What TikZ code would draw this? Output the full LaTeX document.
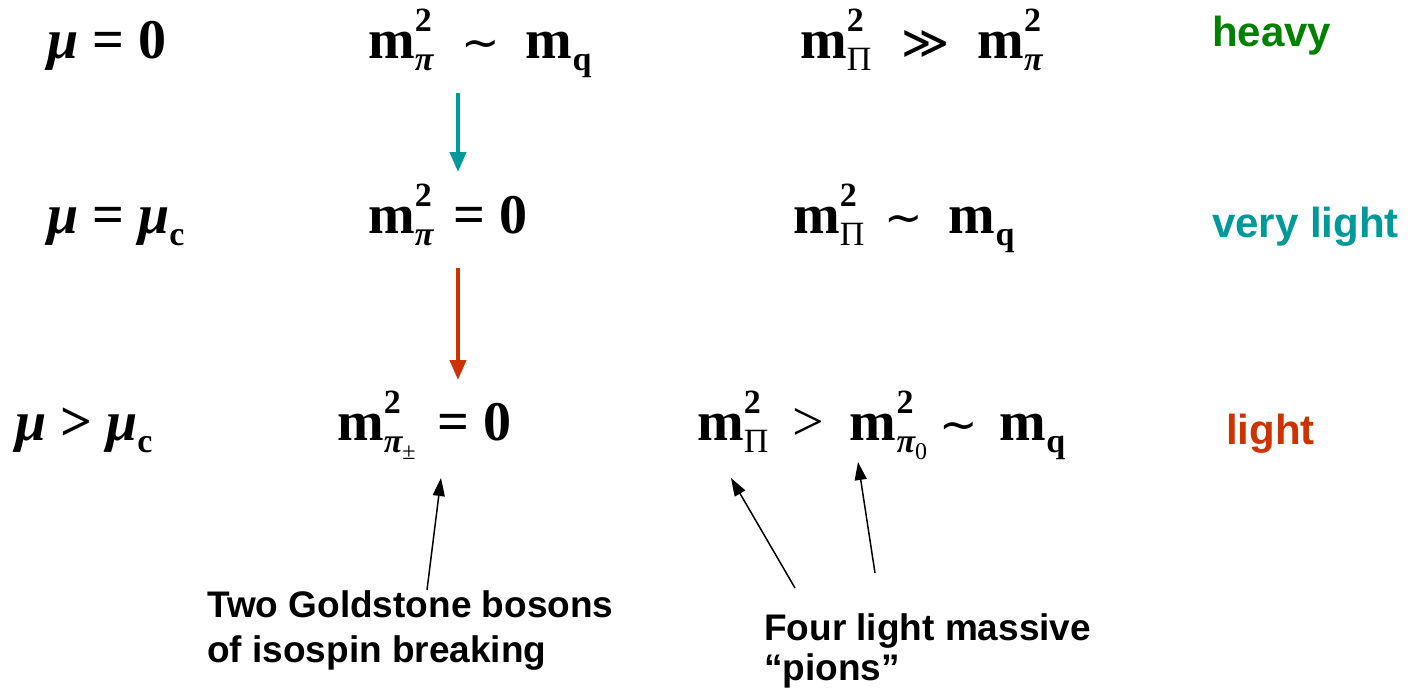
\documentclass[tikz,border=0pt]{standalone}
\usepackage{fontspec}
\setmainfont{Liberation Serif}
\newfontfamily\lsans{Liberation Sans}
\newfontfamily\djv{DejaVu Sans}
\usetikzlibrary{arrows.meta}
\definecolor{heavyc}{RGB}{0,128,0}
\definecolor{tealc}{RGB}{0,153,153}
\definecolor{redc}{RGB}{204,51,0}
\newcommand\bigsz{\fontsize{56}{56}\selectfont}
\newcommand\smsz{\fontsize{34}{34}\selectfont}
\newcommand\tinysz{\fontsize{24}{24}\selectfont}
\newcommand\Mass[1]{\textbf{m}\rlap{\raisebox{27pt}{\smsz\bfseries 2}}\raisebox{-12pt}{\smsz #1}}
\newcommand\Mq{\textbf{m}\raisebox{-12pt}{\smsz\bfseries q}}
\newcommand\bpi{{\bfseries\itshape π}}
\newcommand\Pisub{{\mdseries\upshape Π}}
\newcommand\mus{{\bfseries\itshape μ}}
\newcommand\simr{{\djv\mdseries\fontsize{46}{46}\selectfont ∼}}
\newcommand\ggr{{\djv\mdseries\fontsize{46}{46}\selectfont ≫}}
\begin{document}
\begin{tikzpicture}[x=1pt,y=-1pt,
  mathf/.style={anchor=base west, inner sep=0pt, font=\bigsz\bfseries},
  lab/.style={anchor=base west, inner sep=0pt, font=\lsans\bfseries\fontsize{42}{42}\selectfont},
  note/.style={anchor=base west, inner sep=0pt, font=\lsans\bfseries\fontsize{37}{37}\selectfont},
  colarrow/.style={line width=4pt, -{Triangle[length=20pt,width=16pt]}},
  blkarrow/.style={line width=1.5pt, -{Triangle[length=18pt,width=12pt]}}]
\useasboundingbox (0,0) rectangle (1409,688);
% row 1
\node[mathf] (r1a) at (47,58) {\mus{} = 0};
\node[mathf] (r1b) at (368,58) {\Mass{\bpi}\hspace{28pt}\simr\hspace{26pt}\Mq};
\node[mathf] (r1c) at (800,58) {\Mass{\Pisub}\hspace{30pt}\ggr\hspace{28pt}\Mass{\bpi}};
\node[lab, text=heavyc] (r1d) at (1212,46) {heavy};
% row 2
\node[mathf] (r2a) at (47,233) {\mus{} = \mus\raisebox{-12pt}{\smsz c}};
\node[mathf] (r2b) at (368,233) {\Mass{\bpi}\hspace{20pt}= 0};
\node[mathf] (r2c) at (793,233) {\Mass{\Pisub}\hspace{20pt}\simr\hspace{26pt}\Mq};
\node[lab, text=tealc] (r2d) at (1212,237) {very light};
% row 3
\node[mathf] (r3a) at (15,440) {\mus{} > \mus\raisebox{-12pt}{\smsz c}};
\node[mathf] (r3b) at (337,440) {\Mass{\bpi\raisebox{-7pt}{\tinysz\mdseries ±}}\hspace{22pt}= 0};
\node[mathf] (r3c) at (697,440) {\Mass{\Pisub}\hspace{24pt}{\mdseries >}\hspace{26pt}\Mass{\bpi\raisebox{-7pt}{\tinysz\mdseries 0}}\hspace{12pt}\simr\hspace{22pt}\Mq};
\node[lab, text=redc] (r3d) at (1226,444) {light};
% notes
\node[note] (n1a) at (207,617) {Two Goldstone bosons};
\node[note] (n1b) at (207,662) {of isospin breaking};
\node[note] (n2a) at (764,640) {Four light massive};
\node[note] (n2b) at (764,680) {“pions”};
% arrows
\coordinate (t1) at (458,93);  \coordinate (t2) at (458,172);
\coordinate (u1) at (458,268); \coordinate (u2) at (458,380);
\draw[tealc, colarrow] (t1) -- (t2);
\draw[redc, colarrow] (u1) -- (u2);
\coordinate (g1) at (427,590); \coordinate (g2) at (441,478);
\coordinate (p1) at (795,588); \coordinate (p2) at (731,478);
\coordinate (q1) at (875,573); \coordinate (q2) at (858,462);
\draw[blkarrow] (g1) -- (g2);
\draw[blkarrow] (p1) -- (p2);
\draw[blkarrow] (q1) -- (q2);
\end{tikzpicture}
\end{document}
